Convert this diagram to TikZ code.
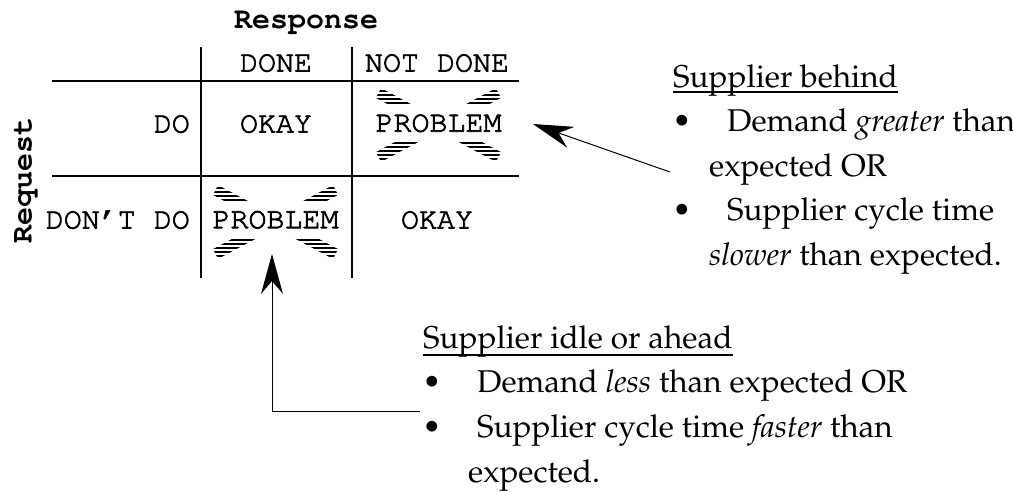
\documentclass[tikz,border=0pt]{standalone}
\usepackage[T1]{fontenc}
\usetikzlibrary{arrows.meta}

% fonts: Courier for the matrix, Palatino for the notes
\newcommand\tabfont{\fontsize{30}{36}\usefont{T1}{pcr}{m}{n}}
\newcommand\tabbold{\fontsize{30}{36}\usefont{T1}{pcr}{b}{n}}
\newcommand\notefont{\fontsize{31.5}{40}\usefont{T1}{ppl}{m}{n}}
% slightly heavier strokes for the thin Courier glyphs
\newcommand\heavy[1]{\special{pdf:literal direct 2 Tr 0.7 w}#1\special{pdf:literal direct 0 Tr}}

\tikzset{
  grid/.style={line width=2.6pt},
  cell/.style={font=\tabfont, inner sep=0pt, anchor=base},
  head/.style={font=\tabbold, inner sep=0pt, anchor=base},
  problem/.style={font=\tabfont, fill=white, inner xsep=0pt, inner ysep=0pt,
                  minimum height=36pt},
  stripe/.style={line width=2.6pt},
  note/.style={font=\notefont, inner sep=0pt, anchor=base west},
  bul/.style={font=\notefont, inner sep=0pt, anchor=base},
  uline/.style={line width=1.3pt},
  pointer/.style={line width=1pt, -{Stealth[length=40pt, width=22pt, inset=13pt]}}
}

% striped cross behind a PROBLEM cell, centred at (#1,#2)
\newcommand\hatchcross[2]{%
  \begin{scope}
    \clip ({#1-62.59},{#2-27.15}) -- ({#1-57.41},{#2-36.85}) -- ({#1+62.59},{#2+27.15}) -- ({#1+57.41},{#2+36.85}) -- cycle
          ({#1-57.41},{#2+36.85}) -- ({#1-62.59},{#2+27.15}) -- ({#1+57.41},{#2-36.85}) -- ({#1+62.59},{#2-27.15}) -- cycle;
    \foreach \k in {-38,-34,...,38}
      \draw[stripe] ({#1-66},{#2+\k}) -- ({#1+66},{#2+\k});
  \end{scope}}

\begin{document}
\begin{tikzpicture}[x=1pt, y=-1pt]
\useasboundingbox (0,0) rectangle (1013,491);

% axis titles
\node[head] (resp) at (306,28.5) {Response};
\node[head, rotate=90] (req) at (31.5,180) {Request};

% matrix rules
\draw[grid] (201,47) -- (201,278);
\draw[grid] (352,47) -- (352,278);
\draw[grid] (52,81) -- (519,81);
\draw[grid] (52,176) -- (519,176);

% column and row labels
\node[cell] (done) at (276,71.5) {\heavy{DONE}};
\node[cell] (notdone) at (437,71.5) {\heavy{NOT DONE}};
\node[cell, anchor=base east] (do) at (190,132.5) {\heavy{DO}};
\node[cell, anchor=base east] (dont) at (190,228.5) {\heavy{DON'T DO}};

% cells
\node[cell] (ok1) at (276,132.5) {\heavy{OKAY}};
\node[cell] (ok2) at (437,228.5) {\heavy{OKAY}};
\hatchcross{438.5}{125}
\node[problem] (prob1) at (438.5,123) {\heavy{PROBLEM}};
\hatchcross{275.5}{222}
\node[problem] (prob2) at (275.5,219.5) {\heavy{PROBLEM}};

% note: supplier behind
\node[note] (h1) at (673,87) {Supplier behind};
\draw[uline] ([yshift=-5pt]h1.base west) -- ([yshift=-5pt]h1.base east);
\node[bul] (b11) at (682,131.5) {\textbullet};
\node[note] (l11) at (727,131.5) {Demand \textit{greater} than};
\node[note] (l12) at (709,176) {expected OR};
\node[bul] (b12) at (682,220.5) {\textbullet};
\node[note] (l13) at (727,220.5) {Supplier cycle time};
\node[note] (l14) at (709,265) {\textit{slower} than expected.};

% note: supplier idle or ahead
\node[note] (h2) at (423,348) {Supplier idle or ahead};
\draw[uline] ([yshift=-7pt]h2.base west) -- ([yshift=-7pt]h2.base east);
\node[bul] (b21) at (432,392) {\textbullet};
\node[note] (l21) at (477,392) {Demand \textit{less} than expected OR};
\node[bul] (b22) at (432,437) {\textbullet};
\node[note] (l22) at (477,437) {Supplier cycle time \textit{faster} than};
\node[note] (l23) at (468,482) {expected.};

% pointers
\coordinate (s1) at (670,172);
\coordinate (t1) at (533,124);
\draw[pointer] (s1) -- (t1);
\coordinate (s2) at (420,411);
\coordinate (t2) at (272,254);
\draw[pointer] (s2) -| (t2);
\end{tikzpicture}
\end{document}
